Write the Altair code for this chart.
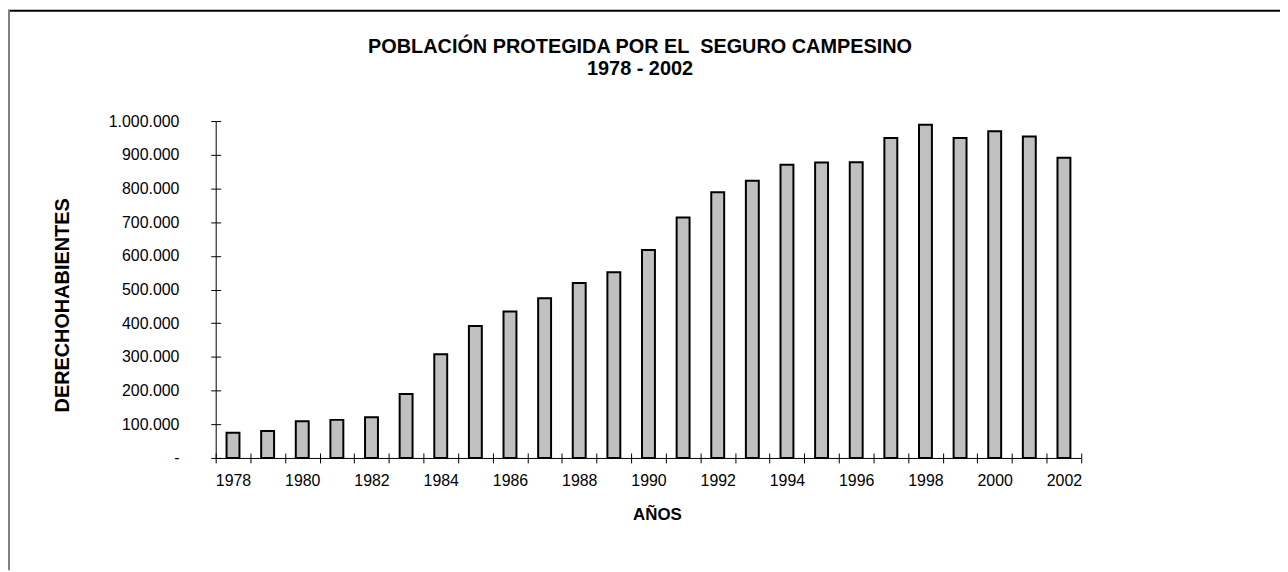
import altair as alt
import pandas as pd

years = [str(y) for y in range(1978, 2003)]
values = [75000, 80000, 109000, 113000, 121000, 190000, 308000, 392000, 435000,
          474000, 519000, 551000, 617000, 714000, 789000, 823000, 870000, 877000,
          878000, 950000, 989000, 950000, 970000, 954000, 891000]
y_ticks = [0, 100000, 200000, 300000, 400000, 500000, 600000, 700000, 800000, 900000, 1000000]

title_lines = ["POBLACIÓN PROTEGIDA POR EL \u00a0SEGURO CAMPESINO", "1978 - 2002"]
x_title = "AÑOS"
y_title = "DERECHOHABIENTES"

df = pd.DataFrame({"year": years, "value": values})

FONT = "Liberation Sans"
W, H = 871, 339
PAD = {"left": 209, "top": 112, "right": 200, "bottom": 113}

x_scale = alt.Scale(paddingInner=0, paddingOuter=0)
y_scale = alt.Scale(domain=[0, 1000000], nice=False, zero=True)

label_y = "datum.value == 0 ? '-' : replace(format(datum.value, ','), regexp(',', 'g'), '.')"
label_x = "toNumber(datum.value) % 2 == 0 ? datum.label : ''"

base = alt.Chart(df)

bars = base.mark_bar(size=13, fill="#c0c0c0", stroke="black", strokeWidth=2).encode(
    x=alt.X("year:O", scale=x_scale, sort=years,
            axis=alt.Axis(orient="bottom", tickBand="extent", tickSize=5, tickColor="black",
                          domainColor="black", labelExpr=label_x, labelAngle=0,
                          labelOverlap=False, labelFont=FONT, labelFontSize=16,
                          labelColor="black", labelPadding=10,
                          title=x_title, titleFont=FONT, titleFontSize=17,
                          titleFontWeight="bold", titleColor="black",
                          titleX=444, titleY=57, titleBaseline="middle", titleAlign="center")),
    y=alt.Y("value:Q", scale=y_scale,
            axis=alt.Axis(orient="left", values=y_ticks, tickSize=5, tickColor="black",
                          domainColor="black", grid=False, labelExpr=label_y,
                          labelFont=FONT, labelFontSize=16, labelColor="black",
                          labelPadding=32,
                          title=y_title, titleFont=FONT, titleFontSize=20,
                          titleFontWeight="bold", titleColor="black", titleAngle=270,
                          titleX=-154, titleY=185, titleBaseline="middle", titleAlign="center")),
)

inner = base.mark_bar(opacity=0).encode(
    x=alt.X("year:O", scale=x_scale, sort=years,
            axis=alt.Axis(orient="bottom", offset=-5, tickBand="extent", tickSize=5,
                          tickColor="black", domain=False, labels=False, title=None)),
    y=alt.Y("value:Q", scale=y_scale,
            axis=alt.Axis(orient="left", offset=-5, values=y_ticks, tickSize=5,
                          tickColor="black", domain=False, labels=False, grid=False, title=None)),
)

one = alt.Data(values=[{"k": 1}])
title1 = alt.Chart(one).mark_text(
    text=title_lines[0], font=FONT, fontSize=20, fontWeight="bold", color="black",
    align="center", baseline="middle"
).encode(x=alt.value(427), y=alt.value(-74))
title2 = alt.Chart(one).mark_text(
    text=title_lines[1], font=FONT, fontSize=20, fontWeight="bold", color="black",
    align="center", baseline="middle"
).encode(x=alt.value(427), y=alt.value(-52))

top_border = alt.Chart(one).mark_rule(color="black", strokeWidth=2).encode(
    x=alt.value(-PAD["left"]), x2=alt.value(W + PAD["right"]), y=alt.value(-PAD["top"] + 1)
)
left_border = alt.Chart(one).mark_rule(color="#808080", strokeWidth=2).encode(
    x=alt.value(-PAD["left"] + 1), y=alt.value(-PAD["top"]), y2=alt.value(H + PAD["bottom"])
)

chart = alt.layer(bars, inner, title1, title2, top_border, left_border).resolve_axis(
    x="independent", y="independent"
).properties(
    width=W, height=H,
    autosize=alt.AutoSizeParams(type="none"),
    padding=PAD,
).configure_view(stroke=None)

chart.save("out.html", embed_options={"renderer": "svg", "actions": False})
